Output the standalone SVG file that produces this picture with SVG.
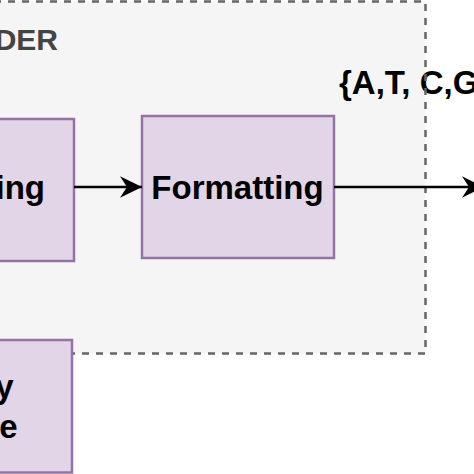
<svg xmlns="http://www.w3.org/2000/svg" width="474" height="474" viewBox="0 0 474 474">
  <defs>
    <style>
      .box { fill: #e1d5e7; stroke: #9673a6; stroke-width: 2.5; }
      .lbl { font-family: "Liberation Sans", Arial, Helvetica, sans-serif; font-weight: bold; fill: #000000; font-size: 33px; }
      .conn { fill: none; stroke: #000000; stroke-width: 2.7; }
      .cfill { fill: #f5f5f5; stroke: none; }
      .cstroke { fill: none; stroke: #666666; stroke-width: 2.5; stroke-dasharray: 7 7; }
    </style>
    <marker id="arrow" markerWidth="24" markerHeight="24" viewBox="0 0 24 24" refX="22" refY="12" orient="auto" markerUnits="userSpaceOnUse">
      <path d="M0,1.3 L22,12 L0,22.7 L7,12 Z" fill="#000000"/>
    </marker>
  </defs>
  <rect width="474" height="474" fill="#ffffff"/>

  <g id="encoder-container">
    <rect class="cfill" x="-300" y="1.5" width="725.5" height="352"/>
    <text x="58" y="50" font-family="'Liberation Sans', Arial, Helvetica, sans-serif" font-weight="bold" font-size="30" fill="#444444" text-anchor="end">DER</text>
  </g>

  <g id="edge-label">
    <text class="lbl" x="339" y="93.5" font-size="31.5">{A,T, C,G</text>
  </g>

  <g id="encoder-border">
    <rect class="cstroke" x="-300" y="1.5" width="725.5" height="352"/>
  </g>

  <g id="node-left">
    <rect class="box" x="-120" y="119" width="194" height="142"/>
    <text class="lbl" x="45" y="199" text-anchor="end">ing</text>
  </g>

  <g id="node-formatting">
    <rect class="box" x="142" y="116" width="192" height="142"/>
    <text class="lbl" x="237.5" y="199" text-anchor="middle">Formatting</text>
  </g>

  <g id="node-bottom">
    <rect class="box" x="-120" y="340" width="192" height="132.5"/>
    <text class="lbl" x="13.5" y="398" text-anchor="end">y</text>
    <text class="lbl" x="17.5" y="438" text-anchor="end">e</text>
  </g>

  <g id="connectors">
    <line class="conn" x1="74" y1="187" x2="142" y2="187" marker-end="url(#arrow)"/>
    <line class="conn" x1="334" y1="187" x2="484" y2="187" marker-end="url(#arrow)"/>
  </g>
</svg>
